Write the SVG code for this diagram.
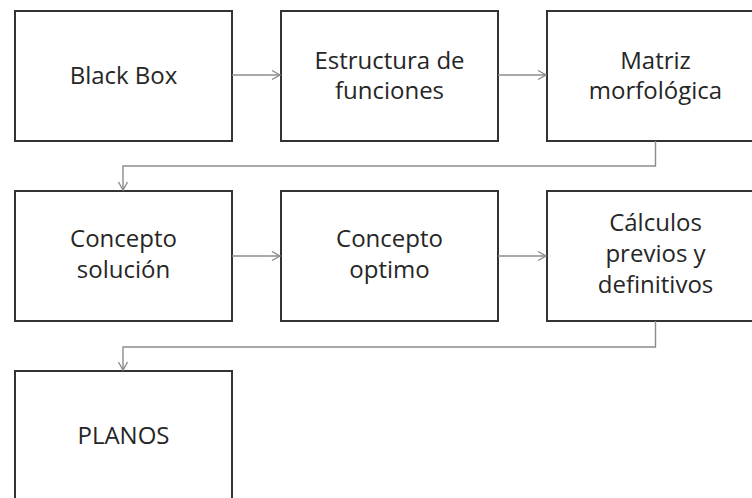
<svg xmlns="http://www.w3.org/2000/svg" width="752" height="498" viewBox="0 0 752 498">
<style>
.box{fill:#fff;stroke:#333;stroke-width:2}
.t{font-family:"Open Sans","Liberation Sans",sans-serif;font-size:24px;fill:#262626;text-anchor:middle}
.c{fill:none;stroke:#8c8c8c;stroke-width:1.4}
</style>
<defs>
<marker id="a" markerWidth="12" markerHeight="12" refX="10" refY="6" orient="auto" markerUnits="userSpaceOnUse">
<path d="M2,1.5 L10,6 L2,10.5" fill="none" stroke="#8c8c8c" stroke-width="1.4"/>
</marker>
</defs>
<rect width="752" height="498" fill="#fff"/>
<g id="n1"><rect class="box" x="15" y="11" width="217" height="130"/><text class="t" x="123.5" y="84">Black Box</text></g>
<g id="n2"><rect class="box" x="281" y="11" width="217" height="130"/><text class="t" x="389.5" y="69">Estructura de</text><text class="t" x="389.5" y="99">funciones</text></g>
<g id="n3"><rect class="box" x="547" y="11" width="217" height="130"/><text class="t" x="655.5" y="69">Matriz</text><text class="t" x="655.5" y="99">morfológica</text></g>
<g id="n4"><rect class="box" x="15" y="191" width="217" height="130"/><text class="t" x="123.5" y="247">Concepto</text><text class="t" x="123.5" y="278">solución</text></g>
<g id="n5"><rect class="box" x="281" y="191" width="217" height="130"/><text class="t" x="389.5" y="247">Concepto</text><text class="t" x="389.5" y="278">optimo</text></g>
<g id="n6"><rect class="box" x="547" y="191" width="217" height="130"/><text class="t" x="655.5" y="231">Cálculos</text><text class="t" x="655.5" y="262">previos y</text><text class="t" x="655.5" y="293">definitivos</text></g>
<g id="n7"><rect class="box" x="15" y="371" width="217" height="131"/><text class="t" x="123.5" y="444">PLANOS</text></g>
<g id="connectors">
<path class="c" d="M232,75 H280" marker-end="url(#a)"/>
<path class="c" d="M498,75 H546" marker-end="url(#a)"/>
<path class="c" d="M655.5,141 V166 H123 V190" marker-end="url(#a)"/>
<path class="c" d="M232,256 H280" marker-end="url(#a)"/>
<path class="c" d="M498,256 H546" marker-end="url(#a)"/>
<path class="c" d="M655.5,321 V347 H123 V370" marker-end="url(#a)"/>
</g>
</svg>
